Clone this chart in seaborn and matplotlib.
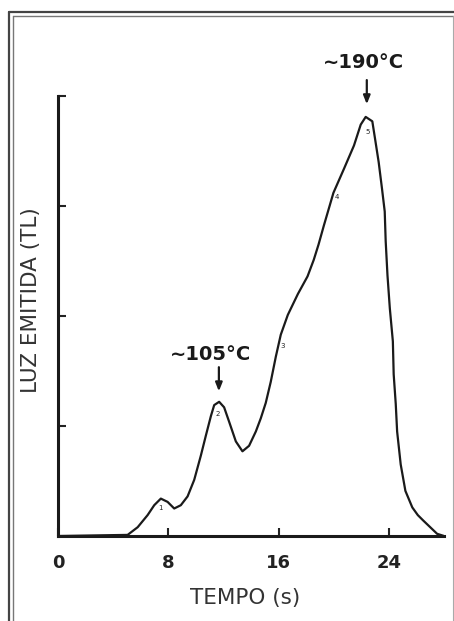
import matplotlib
matplotlib.use("Agg")
import matplotlib.pyplot as plt
from matplotlib.lines import Line2D
import seaborn as sns
import pandas as pd

# ---- data ----
tempo = [0.0, 5.05, 5.78, 6.5, 6.98, 7.46, 7.95, 8.43, 8.91, 9.4, 9.88, 10.36, 10.72,
         11.09, 11.33, 11.69, 12.05, 12.41, 12.9, 13.38, 13.86, 14.35, 14.71, 15.07,
         15.43, 15.8, 16.16, 16.67, 17.4, 18.1, 18.55, 18.9, 19.28, 19.98, 20.75,
         21.47, 21.96, 22.32, 22.8, 23.0, 23.26, 23.5, 23.7, 23.77, 23.9, 24.07,
         24.29, 24.35, 24.5, 24.6, 24.86, 25.2, 25.7, 26.1, 26.5, 27.0, 27.5, 28.0]
luz = [0.0, 0.01, 0.08, 0.19, 0.28, 0.34, 0.31, 0.25, 0.28, 0.36, 0.51, 0.73, 0.91,
       1.09, 1.19, 1.22, 1.17, 1.04, 0.86, 0.77, 0.82, 0.95, 1.07, 1.21,
       1.40, 1.63, 1.83, 2.01, 2.20, 2.36, 2.51, 2.65, 2.82, 3.12, 3.34,
       3.55, 3.74, 3.81, 3.77, 3.61, 3.40, 3.16, 2.95, 2.68, 2.37, 2.07,
       1.77, 1.47, 1.20, 0.95, 0.65, 0.41, 0.26, 0.19, 0.14, 0.08, 0.02, 0.0]

x_ticks = [0, 8, 16, 24]
x_tick_labels = ["0", "8", "16", "24"]
y_ticks = [1, 2, 3, 4]

peak_labels = ["1", "2", "3", "4", "5"]
peak_t = [7.46, 11.6, 16.3, 20.2, 22.46]
peak_y = [0.25, 1.11, 1.73, 3.08, 3.67]

annot_text = ["\u223c105\u00b0C", "\u223c190\u00b0C"]
annot_t = [11.67, 22.4]
annot_text_t = [11.1, 22.17]
annot_text_y = [1.65, 4.30]
annot_arrow_from = [1.56, 4.17]
annot_arrow_to = [1.29, 3.90]

df = pd.DataFrame({"TEMPO (s)": tempo, "LUZ EMITIDA (TL)": luz})

sns.set_style("white")
plt.rcParams["font.family"] = ["DejaVu Sans"]

W, H = 454, 621
fig = plt.figure(figsize=(W / 100, H / 100), dpi=100)
fig.patch.set_facecolor("white")

# axes placement in pixels
ax_left, ax_right, ax_bottom, ax_top = 58, 444, 536, 96
ax = fig.add_axes([ax_left / W, 1 - ax_bottom / H,
                   (ax_right - ax_left) / W, (ax_bottom - ax_top) / H])
ax.set_facecolor("white")

sns.lineplot(data=df, x="TEMPO (s)", y="LUZ EMITIDA (TL)", ax=ax,
             color="#1a1a1a", linewidth=1.6, sort=False)
for ln in ax.lines:
    ln.set_solid_joinstyle("round")

ax.set_xlim(0, 28)
ax.set_ylim(0, 4)
ax.set_xticks(x_ticks)
ax.set_xticklabels(x_tick_labels, fontsize=13, fontweight="bold", color="#222222")
ax.set_yticks(y_ticks)
ax.set_yticklabels([])
ax.tick_params(axis="x", direction="in", length=6, width=1.5, pad=13,
               color="#222222", bottom=True)
ax.tick_params(axis="y", direction="in", length=6, width=1.5,
               color="#222222", left=True)

for s in ["top", "right"]:
    ax.spines[s].set_visible(False)
for s in ["left", "bottom"]:
    ax.spines[s].set_linewidth(2.2)
    ax.spines[s].set_color("#1a1a1a")

ax.set_xlabel("TEMPO (s)", fontsize=15.5, color="#333333")
ax.set_ylabel("LUZ EMITIDA (TL)", fontsize=15.5, color="#333333")
ax.xaxis.set_label_coords((245 - ax_left) / (ax_right - ax_left), (ax_bottom - 588) / (ax_bottom - ax_top))
ax.yaxis.set_label_coords((41 - ax_left) / (ax_right - ax_left), (ax_bottom - 300) / (ax_bottom - ax_top))

# tiny peak numbers
for lab, t, y in zip(peak_labels, peak_t, peak_y):
    ax.text(t, y, lab, fontsize=5, ha="center", va="center", color="#222222")

# temperature annotations with arrows
for txt, t, tt, ty, y0, y1 in zip(annot_text, annot_t, annot_text_t, annot_text_y,
                                  annot_arrow_from, annot_arrow_to):
    ax.text(tt, ty, txt, fontsize=14, fontweight="bold", ha="center", va="center",
            color="#1a1a1a", clip_on=False)
    ax.annotate("", xy=(t, y1), xytext=(t, y0), annotation_clip=False,
                arrowprops=dict(arrowstyle="-|>,head_length=0.5,head_width=0.2",
                                color="#1a1a1a", lw=1.6))

# double frame of the scanned figure
def fl(x0, y0, x1, y1, lw=1.6, c="#444444"):
    fig.add_artist(Line2D([x0 / W, x1 / W], [1 - y0 / H, 1 - y1 / H],
                          transform=fig.transFigure, color=c, lw=lw))

fl(9, 12, 454, 12)
fl(9, 12, 9, 621)
fl(13, 16, 454, 16, lw=1.0, c="#777777")
fl(13, 16, 13, 621, lw=1.0, c="#777777")
fl(452.5, 16, 452.5, 621, lw=0.8, c="#aaaaaa")

fig.savefig("out.png", dpi=100, facecolor="white")
